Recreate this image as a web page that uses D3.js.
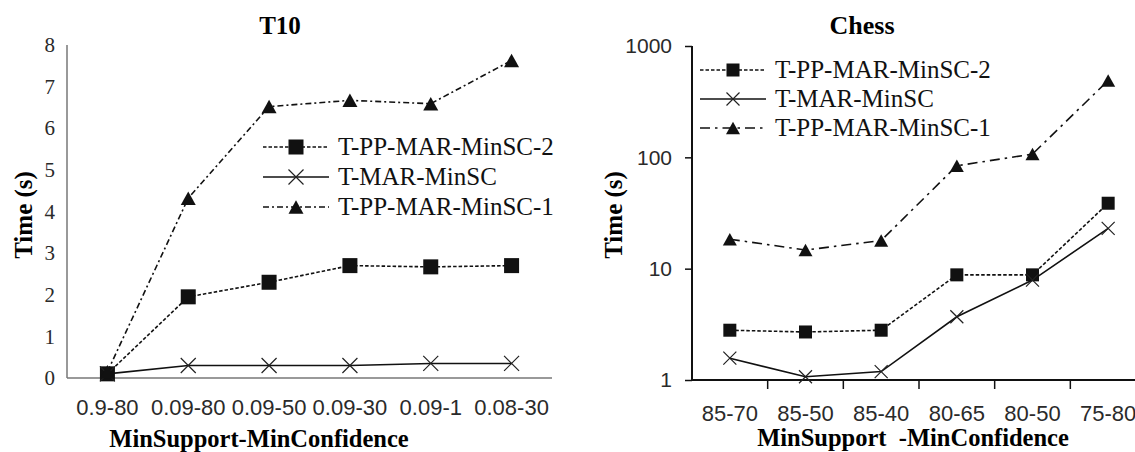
<!DOCTYPE html>
<html>
<head>
<meta charset="utf-8">
<script src="https://cdn.jsdelivr.net/npm/d3@7"></script>
<style>
  body { margin: 0; background: #fff; }
  svg { display: block; }
</style>
</head>
<body>
<div id="chart"></div>
<script>
// T10 data
const t10Categories = ["0.9-80", "0.09-80", "0.09-50", "0.09-30", "0.09-1", "0.08-30"];
const t10PP2 = [0.1, 1.95, 2.3, 2.7, 2.67, 2.7];
const t10MAR = [0.1, 0.3, 0.3, 0.3, 0.35, 0.35];
const t10PP1 = [0.15, 4.32, 6.52, 6.67, 6.59, 7.63];
const t10Ticks = [0, 1, 2, 3, 4, 5, 6, 7, 8];

// Chess data
const chessCategories = ["85-70", "85-50", "85-40", "80-65", "80-50", "75-80"];
const chessPP2 = [2.8, 2.7, 2.8, 8.8, 8.8, 38.7];
const chessMAR = [1.57, 1.07, 1.19, 3.7, 7.9, 23];
const chessPP1 = [18.4, 14.7, 17.9, 84, 107, 490];
const chessTicks = [1, 10, 100, 1000];

const seriesNames = ["T-PP-MAR-MinSC-2", "T-MAR-MinSC", "T-PP-MAR-MinSC-1"];

const width = 1135, height = 452;
const serif = "'Liberation Serif', 'Times New Roman', serif";
const sans = "'Liberation Sans', Arial, sans-serif";

let svg = d3.select("#chart")
    .append("svg")
    .attr("width", width)
    .attr("height", height);

function drawMarker(g, type, x, y, s) {
    if (type === "square") {
        g.append("rect")
            .attr("x", x - s / 2).attr("y", y - s / 2)
            .attr("width", s).attr("height", s)
            .attr("fill", "#111");
    } else if (type === "tri") {
        let h = s * 0.9;
        g.append("path")
            .attr("d", `M${x},${y - h / 2}L${x - s / 2},${y + h / 2}L${x + s / 2},${y + h / 2}Z`)
            .attr("fill", "#111");
    } else {
        let r = s / 2;
        g.append("path")
            .attr("d", `M${x - r},${y - r}L${x + r},${y + r}M${x - r},${y + r}L${x + r},${y - r}`)
            .attr("stroke", "#222")
            .attr("stroke-width", 1.2)
            .attr("fill", "none");
    }
}

function drawPanel(opt) {
    let g = svg.append("g");
    let x = d3.scaleBand().domain(opt.categories).range(opt.xRange);
    let cx = d => x(d) + x.bandwidth() / 2;
    let y = opt.y;

    // axes
    let yAxis = g.append("g")
        .attr("transform", `translate(${opt.xRange[0]},0)`)
        .call(d3.axisLeft(y).tickValues(opt.ticks).tickSize(opt.yTick).tickPadding(opt.yPad).tickFormat(d3.format("d")));
    yAxis.select(".domain").attr("stroke", opt.axisColor).attr("stroke-width", opt.axisWidth)
        .attr("d", `M0,${y.range()[1]}V${y.range()[0]}`);
    yAxis.selectAll(".tick line").attr("stroke", opt.axisColor).attr("stroke-width", 1.5);
    yAxis.selectAll("text").attr("font-family", opt.yFont).attr("font-size", opt.yFontSize).attr("fill", "#2a2a2a");

    let xAxis = g.append("g")
        .attr("transform", `translate(0,${y.range()[0]})`)
        .call(d3.axisBottom(x).tickSize(0).tickPadding(opt.xPad));
    xAxis.select(".domain").attr("stroke", opt.axisColor).attr("stroke-width", opt.axisWidth)
        .attr("d", `M${opt.xRange[0]},0H${opt.xLineEnd}`);
    xAxis.selectAll("text").attr("font-family", sans).attr("font-size", opt.xFontSize).attr("fill", "#2a2a2a");
    if (opt.xTick) {
        opt.categories.forEach(c => {
            xAxis.append("line")
                .attr("x1", x(c) + x.bandwidth()).attr("x2", x(c) + x.bandwidth())
                .attr("y1", 0).attr("y2", opt.xTick)
                .attr("stroke", opt.axisColor).attr("stroke-width", 1.5);
        });
    }

    // lines
    let series = [
        { vals: opt.pp2, dash: "3.5,2", marker: "square", ms: opt.sq },
        { vals: opt.mar, dash: null, marker: "x", ms: opt.xs },
        { vals: opt.pp1, dash: opt.triDash, marker: "tri", ms: opt.tri }
    ];
    let line = d3.line().x(d => cx(d.c)).y(d => y(d.v));
    series.forEach(s => {
        let pts = opt.categories.map((c, i) => ({ c: c, v: s.vals[i] }));
        g.append("path")
            .attr("d", line(pts))
            .attr("fill", "none")
            .attr("stroke", "#111")
            .attr("stroke-width", 1.6)
            .attr("stroke-dasharray", s.dash);
        pts.forEach(p => drawMarker(g, s.marker, cx(p.c), y(p.v), s.ms));
    });

    // legend
    series.forEach((s, i) => {
        let ly = opt.legY + i * opt.legStep;
        g.append("line")
            .attr("x1", opt.legX).attr("x2", opt.legX + 66)
            .attr("y1", ly).attr("y2", ly)
            .attr("stroke", "#111").attr("stroke-width", 1.5)
            .attr("stroke-dasharray", s.dash);
        drawMarker(g, s.marker, opt.legX + 33, ly, s.ms);
        g.append("text")
            .attr("x", opt.legX + 75).attr("y", ly + 8)
            .attr("font-family", serif).attr("font-size", 25)
            .attr("fill", "#111")
            .text(seriesNames[i]);
    });

    // titles
    g.append("text")
        .attr("x", opt.titleX).attr("y", 34)
        .attr("text-anchor", "middle")
        .attr("font-family", serif).attr("font-weight", "bold").attr("font-size", opt.titleSize)
        .text(opt.title);
    g.append("text")
        .attr("transform", "rotate(-90)")
        .attr("x", -215).attr("y", opt.yLabelX)
        .attr("text-anchor", "middle")
        .attr("font-family", serif).attr("font-weight", "bold").attr("font-size", 25)
        .text("Time (s)");
    g.append("text")
        .attr("x", opt.xLabelX).attr("y", opt.xLabelY)
        .attr("text-anchor", "middle")
        .attr("font-family", serif).attr("font-weight", "bold").attr("font-size", 24.5)
        .style("white-space", "pre")
        .text(opt.xLabel);
}

drawPanel({
    categories: t10Categories, pp2: t10PP2, mar: t10MAR, pp1: t10PP1,
    ticks: t10Ticks,
    xRange: [67, 552], xLineEnd: 552,
    y: d3.scaleLinear().domain([0, 8]).range([378, 45]),
    yTick: 0, yPad: 12, yFont: serif, yFontSize: 21,
    xPad: 21, xFontSize: 22, xTick: 0,
    axisColor: "#777", axisWidth: 1.5,
    triDash: "6,3,2,3",
    sq: 15, xs: 15, tri: 15,
    legX: 263, legY: 147, legStep: 30,
    title: "T10", titleX: 280, titleSize: 25,
    yLabelX: 32,
    xLabel: "MinSupport-MinConfidence", xLabelX: 259, xLabelY: 447
});

drawPanel({
    categories: chessCategories, pp2: chessPP2, mar: chessMAR, pp1: chessPP1,
    ticks: chessTicks,
    xRange: [692, 1146], xLineEnd: 1146,
    y: d3.scaleLog().domain([1, 1000]).range([380, 46]),
    yTick: 7, yPad: 13, yFont: sans, yFontSize: 21,
    xPad: 25, xFontSize: 22, xTick: 9,
    axisColor: "#111", axisWidth: 2,
    triDash: "10,5,2.5,5",
    sq: 13, xs: 13, tri: 14,
    legX: 700, legY: 70, legStep: 29,
    title: "Chess", titleX: 862, titleSize: 26,
    yLabelX: 622,
    xLabel: "MinSupport  -MinConfidence", xLabelX: 913, xLabelY: 446
});
</script>
</body>
</html>
